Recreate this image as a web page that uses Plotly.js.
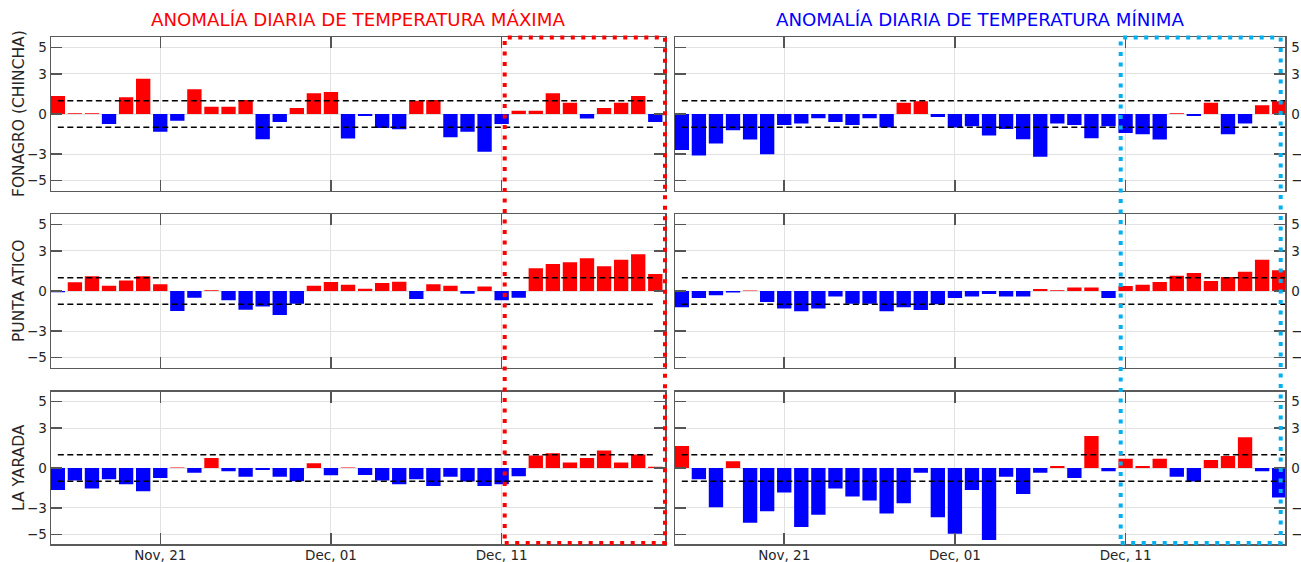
<!DOCTYPE html>
<html>
<head>
<meta charset="utf-8">
<script src="https://cdn.plot.ly/plotly-3.0.1.min.js"></script>
<style>
  html, body { margin: 0; padding: 0; background: #ffffff; }
  #grafico { width: 1301px; height: 562px; }
</style>
</head>
<body>
<div id="grafico"></div>
<script>
// Fechas diarias del periodo evaluado
const fechas = [
  '2023-11-15','2023-11-16','2023-11-17','2023-11-18','2023-11-19','2023-11-20',
  '2023-11-21','2023-11-22','2023-11-23','2023-11-24','2023-11-25','2023-11-26',
  '2023-11-27','2023-11-28','2023-11-29','2023-11-30','2023-12-01','2023-12-02',
  '2023-12-03','2023-12-04','2023-12-05','2023-12-06','2023-12-07','2023-12-08',
  '2023-12-09','2023-12-10','2023-12-11','2023-12-12','2023-12-13','2023-12-14',
  '2023-12-15','2023-12-16','2023-12-17','2023-12-18','2023-12-19','2023-12-20'
];

// Anomalías de temperatura máxima (°C)
const tmaxFonagro = [1.35, 0.05, 0.05, -0.75, 1.25, 2.65, -1.33, -0.5, 1.85, 0.55, 0.55, 1.05,
  -1.9, -0.6, 0.45, 1.55, 1.65, -1.83, -0.15, -1.05, -1.15, 1.0, 1.05, -1.75,
  -1.33, -2.83, -0.75, 0.25, 0.25, 1.55, 0.85, -0.33, 0.45, 0.85, 1.35, -0.6];
const tmaxPuntaAtico = [-0.1, 0.65, 1.1, 0.4, 0.78, 1.1, 0.5, -1.5, -0.5, 0.05, -0.7, -1.4,
  -1.17, -1.8, -0.95, 0.4, 0.67, 0.47, 0.17, 0.6, 0.7, -0.6, 0.5, 0.4,
  -0.2, 0.33, -0.7, -0.5, 1.7, 2.03, 2.15, 2.45, 1.85, 2.35, 2.75, 1.27];
const tmaxLaYarada = [-1.65, -0.95, -1.55, -0.85, -1.22, -1.75, -0.75, 0.03, -0.35, 0.75, -0.25, -0.65,
  -0.15, -0.65, -1.0, 0.35, -0.55, 0.03, -0.52, -0.95, -1.22, -0.85, -1.35, -0.65,
  -1.02, -1.35, -1.22, -0.62, 0.95, 1.12, 0.42, 0.75, 1.32, 0.42, 1.02, 0.1];

// Anomalías de temperatura mínima (°C)
const tminFonagro = [-2.7, -3.12, -2.22, -1.22, -1.92, -3.02, -0.82, -0.72, -0.32, -0.6, -0.82, -0.32,
  -1.02, 0.85, 0.95, -0.22, -1.02, -0.92, -1.62, -1.12, -1.9, -3.2, -0.72, -0.82,
  -1.82, -0.92, -1.42, -1.52, -1.92, 0.05, -0.15, 0.85, -1.52, -0.72, 0.65, 0.95];
const tminPuntaAtico = [-1.22, -0.52, -0.32, -0.12, 0.03, -0.82, -1.32, -1.52, -1.32, -0.42, -0.95, -0.95,
  -1.52, -1.22, -1.42, -1.0, -0.52, -0.42, -0.22, -0.42, -0.42, 0.15, 0.05, 0.27,
  0.27, -0.52, 0.37, 0.47, 0.67, 1.15, 1.35, 0.75, 1.05, 1.45, 2.35, 1.55];
const tminLaYarada = [1.65, -0.85, -2.95, 0.5, -4.12, -3.25, -1.85, -4.45, -3.52, -1.55, -2.15, -2.45,
  -3.42, -2.65, -0.35, -3.72, -4.95, -1.65, -5.42, -0.65, -1.95, -0.35, 0.15, -0.75,
  2.42, -0.25, 0.7, 0.15, 0.7, -0.65, -1.02, 0.6, 0.9, 2.32, -0.25, -2.22];

// Estaciones y títulos
const estaciones = ['FONAGRO (CHINCHA)', 'PUNTA ATICO', 'LA YARADA'];
const titulos = ['ANOMALÍA DIARIA DE TEMPERATURA MÁXIMA', 'ANOMALÍA DIARIA DE TEMPERATURA MÍNIMA'];
const marcasFecha = ['2023-11-21', '2023-12-01', '2023-12-11'];
const marcasY = [-5, -3, 0, 3, 5];
const umbrales = [-1, 1];

const series = [
  [tmaxFonagro, tminFonagro],
  [tmaxPuntaAtico, tminPuntaAtico],
  [tmaxLaYarada, tminLaYarada]
];

const W = 1301, H = 562;
const px = v => v / W;
const py = v => 1 - v / H;

const colDominio = [[px(51), px(665)], [px(675), px(1285)]];
const filaDominio = [[py(190.7), py(37.3)], [py(367.7), py(214.3)], [py(544.3), py(391.7)]];
const rangoX = [['2023-11-14 14:24', '2023-12-20 13:40'], ['2023-11-14 14:24', '2023-12-20 08:10']];

const ROJO = '#ff0000', AZUL = '#0000ff';
const FUENTE = 'DejaVu Sans, sans-serif';
const TEXTO = '#262626';
const DIA_MS = 86400000;

const data = [];
const layout = {
  width: W, height: H,
  margin: {l: 0, r: 0, t: 0, b: 0},
  paper_bgcolor: '#ffffff',
  plot_bgcolor: '#ffffff',
  showlegend: false,
  font: {family: FUENTE, size: 13.5, color: TEXTO},
  shapes: [],
  annotations: []
};

for (let f = 0; f < 3; f++) {
  for (let c = 0; c < 2; c++) {
    const i = f * 2 + c + 1;
    const xn = i === 1 ? 'x' : 'x' + i;
    const yn = i === 1 ? 'y' : 'y' + i;
    const valores = series[f][c];
    data.push({
      type: 'bar',
      x: fechas,
      y: valores,
      xaxis: xn, yaxis: yn,
      width: 0.84 * DIA_MS,
      marker: {color: valores.map(v => v >= 0 ? ROJO : AZUL), line: {width: 0}},
      hoverinfo: 'skip'
    });
    layout['xaxis' + (i === 1 ? '' : i)] = {
      domain: colDominio[c],
      anchor: yn,
      type: 'date',
      range: rangoX[c],
      tickvals: marcasFecha,
      tickformat: '%b, %d',
      showticklabels: f === 2,
      ticks: 'inside', ticklen: 11, tickwidth: 1.5, tickcolor: '#555555',
      ticklabelstandoff: -2,
      showgrid: true, gridcolor: '#e2e2e2', gridwidth: 1,
      showline: true, linecolor: '#5a5a5a', linewidth: 1.5, mirror: 'ticks',
      zeroline: false,
      tickfont: {family: FUENTE, size: 13.5, color: TEXTO},
      fixedrange: true
    };
    layout['yaxis' + (i === 1 ? '' : i)] = {
      domain: filaDominio[f],
      anchor: xn,
      side: c === 0 ? 'left' : 'right',
      range: [-5.75, 5.75],
      tickvals: marcasY,
      ticks: 'inside', ticklen: 11, tickwidth: 1.5, tickcolor: '#555555',
      ticklabelstandoff: c === 0 ? 0 : 2,
      showgrid: true, gridcolor: '#e2e2e2', gridwidth: 1,
      showline: true, linecolor: '#5a5a5a', linewidth: 1.5, mirror: 'ticks',
      zeroline: false,
      tickfont: {family: FUENTE, size: 13.5, color: TEXTO},
      fixedrange: true
    };
    // Líneas de umbral ±1 °C
    umbrales.forEach(u => {
      layout.shapes.push({
        type: 'line', xref: xn, yref: yn,
        x0: fechas[0],
        x1: c === 0 ? fechas[fechas.length - 1] : rangoX[c][1],
        y0: u, y1: u,
        line: {color: '#000000', width: 1.5, dash: '6px,3.5px'}
      });
    });
  }
  // Nombre de la estación
  layout.annotations.push({
    xref: 'paper', yref: 'paper',
    x: px(19), y: (filaDominio[f][0] + filaDominio[f][1]) / 2,
    text: estaciones[f], textangle: -90, showarrow: false,
    xanchor: 'center', yanchor: 'middle',
    font: {family: FUENTE, size: 15.5, color: TEXTO}
  });
}

// Títulos de columna
[ROJO, AZUL].forEach((col, c) => {
  layout.annotations.push({
    xref: 'paper', yref: 'paper',
    x: (colDominio[c][0] + colDominio[c][1]) / 2, y: py(19),
    text: titulos[c], showarrow: false,
    xanchor: 'center', yanchor: 'middle',
    font: {family: FUENTE, size: 18.2, color: col}
  });
});

// Recuadros punteados que resaltan los últimos días
layout.shapes.push({
  type: 'rect', xref: 'paper', yref: 'paper',
  x0: px(504.7), x1: px(665), y0: py(543), y1: py(37.5),
  line: {color: '#ff0000', width: 4, dash: '4px,6.5px'}
});
layout.shapes.push({
  type: 'rect', xref: 'paper', yref: 'paper',
  x0: px(1120.7), x1: px(1280.7), y0: py(543), y1: py(37.5),
  line: {color: '#00b0f0', width: 4, dash: '4px,6.5px'}
});

Plotly.newPlot('grafico', data, layout, {staticPlot: true, displayModeBar: false});
</script>
</body>
</html>
